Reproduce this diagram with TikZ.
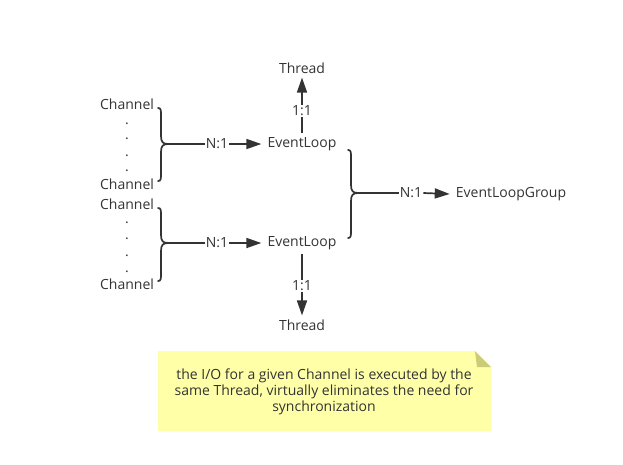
\documentclass[tikz,border=0pt]{standalone}
\usepackage{fontspec}
\setmainfont{Open Sans}
\usetikzlibrary{arrows.meta}
\definecolor{ink}{HTML}{333333}
\definecolor{notefill}{HTML}{FFFFA8}
\definecolor{notefold}{HTML}{CCCC77}
\tikzset{
  lbl/.style={inner xsep=6pt, inner ysep=4pt, text=ink, font=\fontsize{14}{16}\selectfont},
  chan/.style={inner sep=0pt, text=ink, font=\fontsize{14}{16}\selectfont},
  rel/.style={inner xsep=1pt, inner ysep=1pt, text=ink, font=\fontsize{14}{16}\selectfont},
  conn/.style={draw=ink, line width=1.7pt},
  arr/.style={conn, -{Triangle[length=15pt,width=10pt]}},
  bracestyle/.style={draw=ink, line width=1.7pt, line cap=round},
  dotstyle/.style={inner sep=0pt, text=ink, font=\fontsize{14}{16}\selectfont}
}
\newcommand{\mybrace}[4]{% x, top, mid, bottom
  \draw[bracestyle] (#1-3,#2) .. controls (#1,#2) and (#1,#2+2) .. (#1,#2+8)
     -- (#1,#3-8) .. controls (#1,#3-2) and (#1+2,#3) .. (#1+7,#3)
     .. controls (#1+2,#3) and (#1,#3+2) .. (#1,#3+8)
     -- (#1,#4-8) .. controls (#1,#4-2) and (#1,#4) .. (#1-3,#4);
}
\begin{document}
\begin{tikzpicture}[x=1pt,y=-1pt]
\useasboundingbox (0,0) rectangle (623,464);
% top group
\node[chan] (ch1) at (127,104) {Channel};
\node[dotstyle] (d1) at (127,124) {.};
\node[dotstyle] (d2) at (127,139) {.};
\node[dotstyle] (d3) at (127,156) {.};
\node[dotstyle] (d4) at (127,171) {.};
\node[chan] (ch2) at (127,184) {Channel};
\mybrace{161}{108}{144}{181}
\coordinate (t1) at (168,144);
\node[rel] (r1) at (217,144) {N:1};
\node[lbl] (el1) at (302,144) {EventLoop};
\draw[conn] (t1) -- (r1.west);
\draw[arr] (r1.east) -- (el1.west);
\node[lbl] (th1) at (302,68) {Thread};
\node[rel] (r2) at (302,111) {1:1};
\draw[conn] (el1.north) -- (r2.south);
\draw[arr] (r2.north) -- (th1.south);
% bottom group
\node[chan] (ch3) at (127,204) {Channel};
\node[dotstyle] (d5) at (127,223) {.};
\node[dotstyle] (d6) at (127,239) {.};
\node[dotstyle] (d7) at (127,256) {.};
\node[dotstyle] (d8) at (127,272) {.};
\node[chan] (ch4) at (127,284) {Channel};
\mybrace{161}{208}{243}{281}
\coordinate (t2) at (168,243);
\node[rel] (r3) at (217,243) {N:1};
\node[lbl] (el2) at (302,243) {EventLoop};
\draw[conn] (t2) -- (r3.west);
\draw[arr] (r3.east) -- (el2.west);
\node[lbl] (th2) at (302,325) {Thread};
\node[rel] (r4) at (302,286) {1:1};
\draw[conn] (el2.south) -- (r4.north);
\draw[arr] (r4.south) -- (th2.north);
% group brace
\mybrace{351}{150}{193}{238}
\coordinate (t3) at (358,193);
\node[rel] (r5) at (411,193) {N:1};
\node[lbl] (elg) at (511,194) {EventLoopGroup};
\draw[conn] (t3) -- (r5.west);
\draw[arr] (r5.east) -- (elg.west);
% note
\fill[notefill] (158,351) -- (475,351) -- (491,367) -- (491,431) -- (158,431) -- cycle;
\fill[notefold] (475,351) -- (491,367) -- (477,367) -- cycle;
\node[lbl, inner sep=0pt, align=center, font=\fontsize{14}{16}\selectfont] (note) at (324,392)
  {the I/O for a given Channel is executed by the\\same Thread, virtually eliminates the need for\\synchronization};
\end{tikzpicture}
\end{document}
